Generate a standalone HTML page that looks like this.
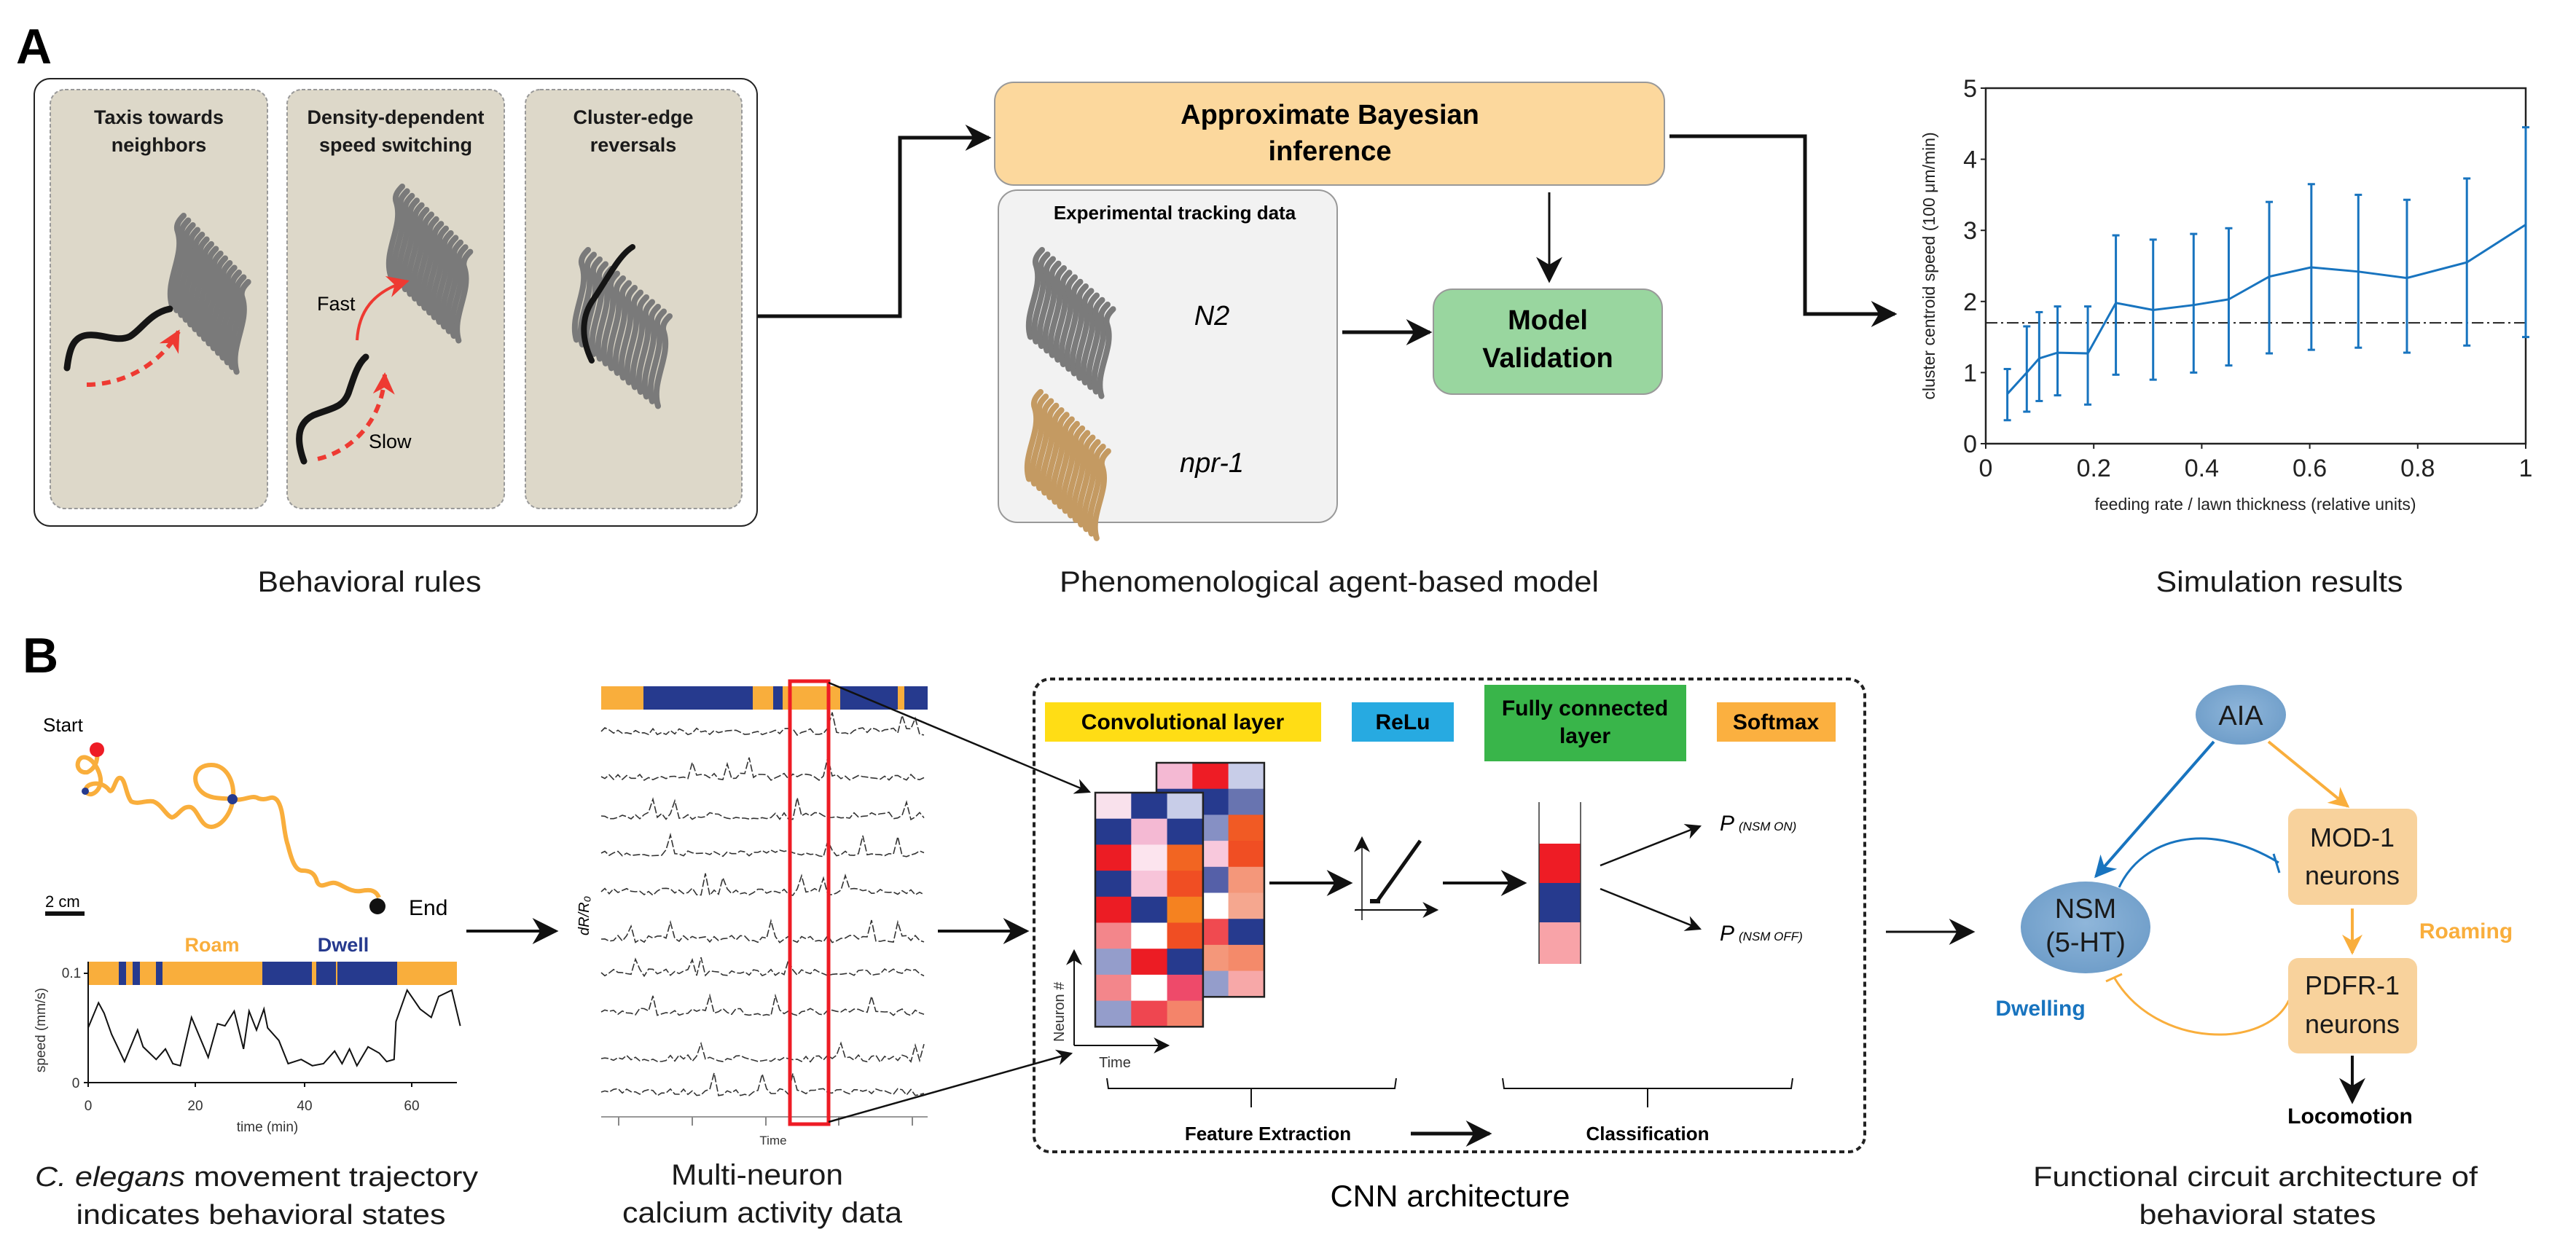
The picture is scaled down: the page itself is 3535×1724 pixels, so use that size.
<!DOCTYPE html>
<html><head><meta charset="utf-8"><style>
html,body{margin:0;padding:0;background:#fff;}
svg{display:block;font-family:"Liberation Sans",sans-serif;}
</style></head><body>
<svg id="s" xmlns="http://www.w3.org/2000/svg" width="3535" height="1724" viewBox="0 0 3535 1724">
<defs>
<marker id="ahB" viewBox="0 0 10 10" refX="9" refY="5" markerWidth="36" markerHeight="36" orient="auto" markerUnits="userSpaceOnUse"><path d="M0,0 L10,5 L0,10 L3,5z" fill="#111"/></marker>
<marker id="ahS" viewBox="0 0 10 10" refX="9" refY="5" markerWidth="22" markerHeight="22" orient="auto" markerUnits="userSpaceOnUse"><path d="M0,0 L10,5 L0,10 L3,5z" fill="#111"/></marker>
<marker id="ahR" viewBox="0 0 10 10" refX="9" refY="5" markerWidth="30" markerHeight="30" orient="auto" markerUnits="userSpaceOnUse"><path d="M0,0 L10,5 L0,10 L3,5z" fill="#ee3a32"/></marker>
<marker id="ahBl" viewBox="0 0 10 10" refX="9" refY="5" markerWidth="30" markerHeight="30" orient="auto" markerUnits="userSpaceOnUse"><path d="M0,0 L10,5 L0,10 L3,5z" fill="#1874bf"/></marker>
<marker id="ahO" viewBox="0 0 10 10" refX="9" refY="5" markerWidth="28" markerHeight="28" orient="auto" markerUnits="userSpaceOnUse"><path d="M0,0 L10,5 L0,10 L3,5z" fill="#f9ae3c"/></marker>
<radialGradient id="eg" cx="50%" cy="45%" r="60%"><stop offset="0" stop-color="#8fb6da"/><stop offset="1" stop-color="#6d9cc8"/></radialGradient>
</defs>

<!-- ============ PANEL A ============ -->
<text x="22" y="87" font-size="68" font-weight="bold">A</text>
<rect x="47" y="108" width="992" height="614" rx="22" fill="#fff" stroke="#222" stroke-width="2"/>
<g fill="#ddd8c9" stroke="#999" stroke-width="2" stroke-dasharray="5,3">
<rect x="69" y="123" width="298" height="575" rx="20"/>
<rect x="394" y="123" width="298" height="575" rx="20"/>
<rect x="721" y="123" width="297" height="575" rx="20"/>
</g>
<g font-size="27" font-weight="bold" text-anchor="middle" fill="#1a1a1a">
<text x="218" y="170">Taxis towards</text><text x="218" y="208">neighbors</text>
<text x="543" y="170">Density-dependent</text><text x="543" y="208">speed switching</text>
<text x="869" y="170">Cluster-edge</text><text x="869" y="208">reversals</text>
</g>

<!-- connectors A -->
<path d="M1040,434 H1235 V189 H1357" fill="none" stroke="#111" stroke-width="5" marker-end="url(#ahB)"/>
<path d="M2291,187 H2477 V431 H2600" fill="none" stroke="#111" stroke-width="5" marker-end="url(#ahB)"/>
<rect x="1365" y="113" width="919" height="141" rx="26" fill="#fcd89d" stroke="#999" stroke-width="2"/>
<text x="1825" y="170" font-size="38" font-weight="bold" text-anchor="middle">Approximate Bayesian</text>
<text x="1825" y="220" font-size="38" font-weight="bold" text-anchor="middle">inference</text>
<rect x="1370" y="261" width="465" height="456" rx="26" fill="#f2f2f2" stroke="#999" stroke-width="2"/>
<text x="1612" y="301" font-size="26" font-weight="bold" text-anchor="middle">Experimental tracking data</text>
<text x="1663" y="446" font-size="38" font-style="italic" text-anchor="middle">N2</text>
<text x="1663" y="648" font-size="38" font-style="italic" text-anchor="middle">npr-1</text>
<rect x="1967" y="397" width="314" height="144" rx="26" fill="#99d69f" stroke="#999" stroke-width="2"/>
<text x="2124" y="452" font-size="38" font-weight="bold" text-anchor="middle">Model</text>
<text x="2124" y="504" font-size="38" font-weight="bold" text-anchor="middle">Validation</text>
<path d="M1842,456 H1962" stroke="#111" stroke-width="5" marker-end="url(#ahB)"/>
<path d="M2126,264 V385" stroke="#111" stroke-width="3" marker-end="url(#ahB)"/>

<g id="clusters"></g>
<!-- black worms -->
<g fill="none" stroke="#151515" stroke-linecap="round">
<path d="M92,505 C95,480 100,462 120,460 C140,458 160,470 178,462 C195,452 205,430 233,424" stroke-width="9"/>
<path d="M417,633 C405,600 410,580 430,570 C455,560 470,560 478,540 C485,520 490,500 502,490" stroke-width="9"/>
<path d="M868,339 C850,350 835,380 815,410 C800,430 795,460 812,495" stroke-width="8"/>
</g>
<!-- red arrows -->
<path d="M119,528 C170,528 220,500 245,455" fill="none" stroke="#ee3a32" stroke-width="6" stroke-dasharray="12,9" marker-end="url(#ahR)"/>
<path d="M490,467 C492,430 510,400 559,386" fill="none" stroke="#ee3a32" stroke-width="4" marker-end="url(#ahR)"/>
<path d="M436,630 C480,620 525,580 528,514" fill="none" stroke="#ee3a32" stroke-width="6" stroke-dasharray="12,9" marker-end="url(#ahR)"/>
<text x="435" y="426" font-size="27">Fast</text>
<text x="506" y="615" font-size="27">Slow</text>

<!-- plot -->
<g id="plot"></g>

<g font-size="40" text-anchor="middle" fill="#1a1a1a">
<text x="507" y="812" textLength="307" lengthAdjust="spacingAndGlyphs">Behavioral rules</text>
<text x="1824" y="812" textLength="740" lengthAdjust="spacingAndGlyphs">Phenomenological agent-based model</text>
<text x="3128" y="812" textLength="339" lengthAdjust="spacingAndGlyphs">Simulation results</text>
</g>

<!-- ============ PANEL B ============ -->
<text x="31" y="923" font-size="68" font-weight="bold">B</text>
<text x="59" y="1004" font-size="26">Start</text>
<path fill="none" stroke="#f9ae3c" stroke-width="6" stroke-linejoin="round" d="M133,1029 C135,1045 130,1055 120,1060 C105,1062 103,1045 112,1040 C125,1035 140,1060 138,1075 C135,1090 120,1095 118,1085 C116,1075 140,1070 150,1085 C155,1090 158,1070 163,1068 C172,1065 172,1090 180,1100 C190,1105 200,1098 210,1100 C222,1104 228,1120 236,1122 C245,1120 250,1105 262,1108 C272,1112 275,1135 290,1135 C305,1134 318,1115 320,1095 C322,1075 312,1050 290,1050 C265,1050 262,1075 278,1088 C290,1098 310,1095 320,1097 C335,1100 345,1090 355,1096 C368,1100 372,1090 380,1098 C390,1110 388,1140 395,1160 C400,1180 405,1195 415,1195 C425,1195 432,1198 435,1210 C440,1222 450,1210 460,1212 C470,1214 480,1225 495,1223 C505,1221 515,1220 520,1232"/>
<circle cx="133" cy="1029" r="10" fill="#ee1c25"/>
<circle cx="117" cy="1086" r="5" fill="#263a8e"/>
<circle cx="319" cy="1097" r="7" fill="#263a8e"/>
<circle cx="518" cy="1244" r="11" fill="#111"/>
<text x="561" y="1256" font-size="30">End</text>
<text x="62" y="1245" font-size="22">2 cm</text>
<rect x="62" y="1251" width="54" height="6" fill="#111"/>
<text x="291" y="1306" font-size="27" font-weight="bold" fill="#f9ae3c" text-anchor="middle">Roam</text>
<text x="471" y="1306" font-size="27" font-weight="bold" fill="#263a8e" text-anchor="middle">Dwell</text>
<rect x="121" y="1320" width="506" height="32" fill="#f9ae3c"/>
<g fill="#263a8e">
<rect x="163" y="1320" width="10" height="32"/><rect x="182" y="1320" width="10" height="32"/><rect x="214" y="1320" width="9" height="32"/>
<rect x="360" y="1320" width="68" height="32"/><rect x="434" y="1320" width="27" height="32"/><rect x="463" y="1320" width="82" height="32"/>
</g>
<path d="M121,1320 V1486 H627" fill="none" stroke="#111" stroke-width="2"/>
<g stroke="#111" stroke-width="2"><path d="M115,1336 H121 M115,1486 H121 M121,1486 V1492 M268,1486 V1492 M418,1486 V1492 M565,1486 V1492"/></g>
<g font-size="19" fill="#333" text-anchor="middle">
<text x="98" y="1342">0.1</text><text x="104" y="1493">0</text>
<text x="121" y="1524">0</text><text x="268" y="1524">20</text><text x="418" y="1524">40</text><text x="565" y="1524">60</text>
<text x="367" y="1553">time (min)</text>
<text x="0" y="0" transform="translate(62,1414) rotate(-90)">speed (mm/s)</text>
</g>
<path id="speed" fill="none" stroke="#111" stroke-width="2"/>
<path d="M640,1278 H763" stroke="#111" stroke-width="4" marker-end="url(#ahB)"/>
<g font-size="38" text-anchor="middle" fill="#1a1a1a">
<text x="352" y="1628" textLength="608" lengthAdjust="spacingAndGlyphs"><tspan font-style="italic">C. elegans</tspan> movement trajectory</text>
<text x="358" y="1680" textLength="507" lengthAdjust="spacingAndGlyphs">indicates behavioral states</text>
</g>

<!-- calcium -->
<g id="cabar"></g>
<g id="traces" fill="none" stroke="#333" stroke-width="1.6"></g>
<path d="M825,1533 H1273" stroke="#999" stroke-width="2"/>
<g stroke="#888" stroke-width="2"><path d="M849,1533 V1545 M950,1533 V1545 M1051,1533 V1545 M1151,1533 V1545 M1252,1533 V1545"/></g>
<text x="1061" y="1571" font-size="17" text-anchor="middle" fill="#333">Time</text>
<text x="0" y="0" font-size="20" font-style="italic" transform="translate(808,1257) rotate(-90)" text-anchor="middle">dR/R₀</text>
<rect x="1084" y="935" width="53" height="608" fill="none" stroke="#ee1c25" stroke-width="5"/>
<path d="M1137,937 L1495,1087" stroke="#111" stroke-width="2.5" marker-end="url(#ahS)"/>
<path d="M1137,1540 L1470,1446" stroke="#111" stroke-width="2.5" marker-end="url(#ahS)"/>
<path d="M1287,1278 H1409" stroke="#111" stroke-width="4" marker-end="url(#ahB)"/>
<g font-size="40" text-anchor="middle" fill="#1a1a1a">
<text x="1039" y="1626" textLength="236" lengthAdjust="spacingAndGlyphs">Multi-neuron</text>
<text x="1046" y="1678" textLength="384" lengthAdjust="spacingAndGlyphs">calcium activity data</text>
</g>

<!-- CNN -->
<rect x="1419" y="932" width="1140" height="649" rx="22" fill="none" stroke="#222" stroke-width="4" stroke-dasharray="7,5"/>
<rect x="1434" y="964" width="379" height="54" fill="#ffdd15"/>
<text x="1623" y="1001" font-size="30" font-weight="bold" text-anchor="middle">Convolutional layer</text>
<rect x="1855" y="964" width="140" height="54" fill="#27aae1"/>
<text x="1925" y="1001" font-size="30" font-weight="bold" text-anchor="middle">ReLu</text>
<rect x="2037" y="940" width="277" height="105" fill="#39b54a"/>
<text x="2175" y="982" font-size="30" font-weight="bold" text-anchor="middle">Fully connected</text>
<text x="2175" y="1020" font-size="30" font-weight="bold" text-anchor="middle">layer</text>
<rect x="2356" y="964" width="163" height="54" fill="#fbb040"/>
<text x="2437" y="1001" font-size="30" font-weight="bold" text-anchor="middle">Softmax</text>
<g id="mat"></g>
<path d="M1474,1435 V1305" stroke="#111" stroke-width="2" marker-end="url(#ahS)"/>
<path d="M1474,1435 H1603" stroke="#111" stroke-width="2" marker-end="url(#ahS)"/>
<text x="1530" y="1465" font-size="20" text-anchor="middle" fill="#333">Time</text>
<text x="0" y="0" font-size="20" fill="#333" transform="translate(1460,1430) rotate(-90)">Neuron #</text>
<path d="M1742,1212 H1853" stroke="#111" stroke-width="4" marker-end="url(#ahB)"/>
<path d="M1869,1263 V1150" stroke="#111" stroke-width="1.5" marker-end="url(#ahS)"/>
<path d="M1859,1249 H1972" stroke="#111" stroke-width="2" marker-end="url(#ahS)"/>
<path d="M1890,1237 L1949,1154" stroke="#111" stroke-width="5" fill="none"/>
<path d="M1880,1237 H1894" stroke="#111" stroke-width="6"/>
<path d="M1980,1212 H2092" stroke="#111" stroke-width="4" marker-end="url(#ahB)"/>
<rect x="2112" y="1101" width="57" height="57" fill="#fff"/>
<rect x="2112" y="1158" width="57" height="54" fill="#ee1c25"/>
<rect x="2112" y="1212" width="57" height="54" fill="#263a8e"/>
<rect x="2112" y="1266" width="57" height="57" fill="#f8a3a8"/>
<path d="M2112,1101 V1323 M2169,1101 V1323" stroke="#333" stroke-width="1.5"/>
<path d="M2196,1188 L2333,1134" stroke="#111" stroke-width="2.5" marker-end="url(#ahS)"/>
<path d="M2196,1220 L2333,1275" stroke="#111" stroke-width="2.5" marker-end="url(#ahS)"/>
<text x="2360" y="1140" font-size="30" font-style="italic">P<tspan font-size="17" dx="6">(NSM ON)</tspan></text>
<text x="2360" y="1291" font-size="30" font-style="italic">P<tspan font-size="17" dx="6">(NSM OFF)</tspan></text>
<path d="M1519,1480 L1521,1494 H1914 L1916,1480 M1717,1494 V1520" fill="none" stroke="#111" stroke-width="2"/>
<path d="M2062,1480 L2064,1494 H2458 L2460,1480 M2261,1494 V1520" fill="none" stroke="#111" stroke-width="2"/>
<text x="1740" y="1565" font-size="26" font-weight="bold" text-anchor="middle">Feature Extraction</text>
<text x="2261" y="1565" font-size="26" font-weight="bold" text-anchor="middle">Classification</text>
<path d="M1936,1556 H2044" stroke="#111" stroke-width="5" marker-end="url(#ahB)"/>
<text x="1990" y="1656" font-size="42" text-anchor="middle" textLength="329" lengthAdjust="spacingAndGlyphs">CNN architecture</text>

<!-- circuit -->
<path d="M2588,1279 H2707" stroke="#111" stroke-width="3" marker-end="url(#ahB)"/>
<path d="M3038,1018 L2876,1203" stroke="#1874bf" stroke-width="4" marker-end="url(#ahBl)"/>
<path d="M3113,1018 L3222,1107" stroke="#f9ae3c" stroke-width="4" marker-end="url(#ahO)"/>
<path d="M2908,1218 C2940,1150 3030,1125 3127,1184" fill="none" stroke="#1874bf" stroke-width="3"/>
<path d="M3120,1172 L3128,1198" stroke="#1874bf" stroke-width="3"/>
<path d="M3141,1373 C3110,1440 2960,1440 2902,1343" fill="none" stroke="#f9ae3c" stroke-width="3"/>
<path d="M2890,1347 L2912,1337" stroke="#f9ae3c" stroke-width="3"/>
<path d="M3228,1247 V1308" stroke="#f9ae3c" stroke-width="4" marker-end="url(#ahO)"/>
<path d="M3228,1449 V1512" stroke="#111" stroke-width="4" marker-end="url(#ahB)"/>
<ellipse cx="3075" cy="981" rx="62" ry="41" fill="url(#eg)"/>
<text x="3075" y="995" font-size="38" text-anchor="middle" fill="#1a1a1a">AIA</text>
<ellipse cx="2862" cy="1273" rx="89" ry="63" fill="url(#eg)"/>
<text x="2862" y="1260" font-size="38" text-anchor="middle" fill="#1a1a1a">NSM</text>
<text x="2862" y="1306" font-size="38" text-anchor="middle" fill="#1a1a1a">(5-HT)</text>
<rect x="3140" y="1110" width="177" height="132" rx="14" fill="#f8d29c"/>
<text x="3228" y="1162" font-size="36" text-anchor="middle" fill="#1a1a1a">MOD-1</text>
<text x="3228" y="1214" font-size="36" text-anchor="middle" fill="#1a1a1a">neurons</text>
<rect x="3140" y="1315" width="177" height="131" rx="14" fill="#f8d29c"/>
<text x="3228" y="1365" font-size="36" text-anchor="middle" fill="#1a1a1a">PDFR-1</text>
<text x="3228" y="1418" font-size="36" text-anchor="middle" fill="#1a1a1a">neurons</text>
<text x="3384" y="1288" font-size="30" font-weight="bold" fill="#f9ae3c" text-anchor="middle">Roaming</text>
<text x="2800" y="1394" font-size="30" font-weight="bold" fill="#1874bf" text-anchor="middle">Dwelling</text>
<text x="3225" y="1542" font-size="30" font-weight="bold" text-anchor="middle">Locomotion</text>
<g font-size="38" text-anchor="middle" fill="#1a1a1a">
<text x="3095" y="1628" textLength="610" lengthAdjust="spacingAndGlyphs">Functional circuit architecture of</text>
<text x="3098" y="1680" textLength="325" lengthAdjust="spacingAndGlyphs">behavioral states</text>
</g>
</svg>
<script>
(function(){
var NS="http://www.w3.org/2000/svg";
function el(p,t,a){var e=document.createElementNS(NS,t);for(var k in a)e.setAttribute(k,a[k]);p.appendChild(e);return e;}
var seed=7;function rnd(){seed=(seed*16807)%2147483647;return (seed-1)/2147483646;}
var cg=document.getElementById('clusters');
function cluster(x0,y0,w,h,col,n){
 for(var i=0;i<n;i++){
  var x=x0+i*(w-30)/n, y=y0+i*h*0.05, L=h*0.78;
  var d="M"+(x-4)+","+(y+L)+" C"+(x-14)+","+(y+L*0.66)+" "+(x+14)+","+(y+L*0.33)+" "+(x+4)+","+y+" C"+(x)+","+(y-10)+" "+(x+8)+","+(y-18)+" "+(x+12)+","+(y-22);
  el(cg,'path',{d:d,fill:'none',stroke:col,'stroke-width':8,'stroke-linecap':'round'});
 }
}
cluster(240,318,125,130,'#7a7a7a',15);
cluster(540,278,130,128,'#7a7a7a',15);
cluster(795,365,150,130,'#7a7a7a',15);
cluster(1418,365,135,125,'#7b7b7b',14);
cluster(1416,560,130,125,'#c49a62',14);
var pg=document.getElementById('plot');
var X0=2725,X1=3466,Y0=609,Yu=97.6;
function px(v){return X0+v*(X1-X0);} function py(v){return Y0-v*Yu;}
el(pg,'rect',{x:X0,y:py(5),width:X1-X0,height:Y0-py(5),fill:'none',stroke:'#222','stroke-width':2.5});
for(var t=0;t<=5;t++){el(pg,'line',{x1:X0-7,x2:X0,y1:py(t),y2:py(t),stroke:'#222','stroke-width':2});var tx=el(pg,'text',{x:X0-12,y:py(t)+12,'font-size':34,'text-anchor':'end',fill:'#222'});tx.textContent=t;}
[0,0.2,0.4,0.6,0.8,1].forEach(function(v){el(pg,'line',{x1:px(v),x2:px(v),y1:Y0,y2:Y0+7,stroke:'#222','stroke-width':2});var tx=el(pg,'text',{x:px(v),y:Y0+45,'font-size':34,'text-anchor':'middle',fill:'#222'});tx.textContent=(v==0||v==1)?v:v.toFixed(1);});
var xl=el(pg,'text',{x:3095,y:700,'font-size':23,'text-anchor':'middle',fill:'#222'});xl.textContent='feeding rate / lawn thickness (relative units)';
var yl=el(pg,'text',{x:0,y:0,'font-size':23,'text-anchor':'middle',fill:'#222',transform:'translate(2655,365) rotate(-90)'});yl.textContent='cluster centroid speed (100 \u03bcm/min)';
el(pg,'line',{x1:X0,x2:X1,y1:py(1.7),y2:py(1.7),stroke:'#222','stroke-width':2,'stroke-dasharray':'16,5,3,5'});
var D=[[0.04,0.7,0.33,1.05],[0.076,1.0,0.45,1.65],[0.099,1.2,0.6,1.85],[0.133,1.28,0.68,1.93],[0.189,1.27,0.55,1.93],[0.241,1.98,0.97,2.93],[0.31,1.88,0.9,2.87],[0.385,1.95,1.0,2.95],[0.45,2.03,1.1,3.03],[0.525,2.35,1.27,3.4],[0.603,2.48,1.32,3.65],[0.69,2.42,1.35,3.5],[0.78,2.33,1.28,3.43],[0.891,2.55,1.38,3.73],[1,3.08,1.5,4.45]];
var d="";D.forEach(function(p,i){d+=(i?"L":"M")+px(p[0])+","+py(p[1]);
 el(pg,'line',{x1:px(p[0]),x2:px(p[0]),y1:py(p[2]),y2:py(p[3]),stroke:'#1874bf','stroke-width':3});
 el(pg,'line',{x1:px(p[0])-5,x2:px(p[0])+5,y1:py(p[2]),y2:py(p[2]),stroke:'#1874bf','stroke-width':3});
 el(pg,'line',{x1:px(p[0])-5,x2:px(p[0])+5,y1:py(p[3]),y2:py(p[3]),stroke:'#1874bf','stroke-width':3});});
el(pg,'path',{d:d,fill:'none',stroke:'#1874bf','stroke-width':3});
var S=[[237,1025],[265,965],[280,990],[300,1040],[335,1105],[370,1030],[385,1070],[420,1100],[445,1075],[465,1110],[485,1115],[515,1000],[560,1095],[585,1015],[605,1020],[630,985],[655,1075],[670,985],[690,1030],[710,980],[720,1025],[750,1055],[775,1110],[810,1100],[840,1115],[870,1110],[900,1080],[920,1110],[940,1075],[960,1115],[990,1070],[1020,1085],[1040,1105],[1060,1100],[1065,1010],[1095,935],[1130,980],[1160,1000],[1180,950],[1215,935],[1238,1020]];
var sd="";S.forEach(function(p,i){sd+=(i?"L":"M")+(p[0]/1.96).toFixed(1)+","+(820+p[1]/1.7345).toFixed(1);});
document.getElementById('speed').setAttribute('d',sd);
var cb=document.getElementById('cabar');
[[825,883,'#f9ae3c'],[883,1033,'#263a8e'],[1033,1061,'#f9ae3c'],[1061,1074,'#263a8e'],[1074,1153,'#f9ae3c'],[1153,1232,'#263a8e'],[1232,1241,'#f9ae3c'],[1241,1273,'#263a8e']].forEach(function(s){el(cb,'rect',{x:s[0],y:942,width:s[1]-s[0],height:32,fill:s[2]});});
var tg=document.getElementById('traces');
[1004,1066,1120,1171,1224,1289,1335,1389,1453,1499].forEach(function(y){
 var d="M825,"+y;for(var x=830;x<=1273;x+=6){var v=(rnd()-0.5)*10; if(rnd()<0.04)v-=22; d+=" L"+x+","+(y+v).toFixed(1);}
 el(tg,'path',{d:d,'stroke-dasharray':'10,3'});
});
var mg=document.getElementById('mat');
var back=[['#f4b9d3','#ee1c25','#c8cde8'],['#263a8e','#263a8e','#6874b0'],['#263a8e','#8690c4','#f15a24'],['#f8c8dc','#f8c8dc','#f04e23'],['#5560a8','#5560a8','#f4977a'],['#fff','#fff','#f5a78f'],['#f04a50','#f04a50','#263a8e'],['#f4977a','#f4977a','#f48a6a'],['#949dcb','#949dcb','#f7a8a8']];
var front=[['#f9e1ec','#263a8e','#c8cde8'],['#263a8e','#f4b9d3','#263a8e'],['#ec1c24','#fce4ee','#f26522'],['#263a8e','#f7c4d9','#f04e23'],['#ec1c24','#263a8e','#f58220'],['#f3868b','#fff','#f04e23'],['#949dcb','#ec1c24','#263a8e'],['#f3868b','#fff','#ee4a6a'],['#949dcb','#ef4650','#f4846a']];
function mat(x0,y0,M){var cw=49.3,ch=35.7;for(var r=0;r<9;r++)for(var c=0;c<3;c++)el(mg,'rect',{x:x0+c*cw,y:y0+r*ch,width:cw+0.5,height:ch+0.5,fill:M[r][c]});el(mg,'rect',{x:x0,y:y0,width:3*cw,height:9*ch,fill:'none',stroke:'#222','stroke-width':2.5});}
mat(1587,1047,back);mat(1503,1088,front);
})();
</script>
</body></html>
